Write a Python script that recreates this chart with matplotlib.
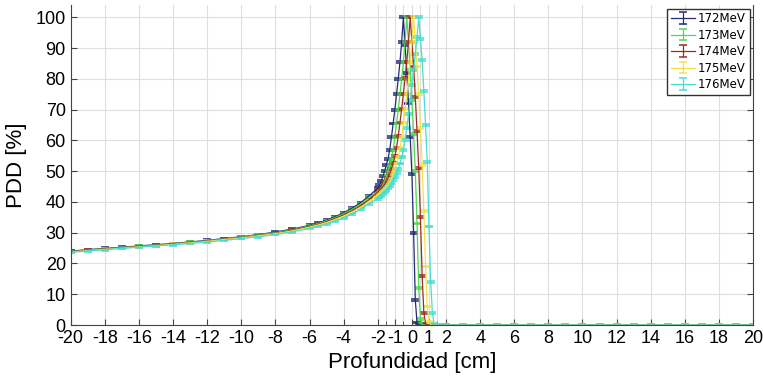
import matplotlib
matplotlib.use('Agg')
import matplotlib.pyplot as plt

# Depth grid [cm] shared by all energies (coarse on the plateau, fine near the peak)
depth = [-20, -19, -18, -17, -16, -15, -14, -13, -12, -11, -10, -9, -8, -7, -6,
         -5.5, -5, -4.5, -4, -3.5, -3, -2.5,
         -2.0, -1.9, -1.8, -1.7, -1.6, -1.5, -1.4, -1.3, -1.2, -1.1, -1.0, -0.9,
         -0.8, -0.7, -0.6, -0.5, -0.4, -0.3, -0.2, -0.1, 0.0, 0.1, 0.2, 0.3, 0.4,
         0.5, 0.6, 0.7, 0.8, 0.9, 1.0, 1.1, 1.2, 1.3, 1.4]

tail_depth = [1.6, 2, 3, 4, 5, 6, 7, 8, 9, 10, 11, 12, 13, 14, 15, 16, 17, 18, 19, 20]
tail_pdd = [0.0] * len(tail_depth)

pdd_172 = [24.0, 24.5, 24.9, 25.3, 25.7, 26.1, 26.5, 27.0, 27.5, 28.1, 28.7, 29.4, 30.2, 31.2, 32.4,
           33.2, 34.1, 35.2, 36.5, 38.0, 39.8, 42.0,
           44.5, 45.5, 46.8, 48.3, 50.0, 52.0, 54.0, 57.0, 61.0, 65.5, 70.0, 75.0, 80.0, 85.5,
           92.0, 100.0, 91.0, 82.0, 72.0, 61.0, 49.0, 30.0, 8.0, 0.8,
           0, 0, 0, 0, 0, 0, 0, 0, 0, 0, 0]

pdd_173 = [23.9, 24.4, 24.8, 25.2, 25.6, 26.0, 26.4, 26.9, 27.4, 28.0, 28.6, 29.3, 30.0, 31.0, 32.2,
           33.0, 33.9, 34.9, 36.2, 37.6, 39.3, 41.5,
           43.5, 44.0, 44.5, 45.5, 46.8, 48.3, 50.0, 52.0, 54.0, 57.0, 61.0, 65.5, 70.0, 75.0,
           80.0, 85.5, 92.0, 100.0, 92.0, 83.0, 73.0, 62.0, 50.0, 33.0, 12.0, 2.0, 0.2,
           0, 0, 0, 0, 0, 0, 0, 0]

pdd_174 = [23.8, 24.3, 24.7, 25.1, 25.5, 25.9, 26.3, 26.8, 27.3, 27.9, 28.4, 29.1, 29.8, 30.8, 32.0,
           32.7, 33.6, 34.6, 35.8, 37.2, 38.8, 40.8,
           43.2, 43.8, 44.4, 45.0, 45.7, 46.6, 47.8, 49.2, 50.8, 52.7, 54.8, 57.6, 61.4, 65.8,
           70.3, 75.2, 80.2, 85.6, 92.0, 100.0, 92.0, 84.0, 74.0, 63.0, 51.0, 35.0, 16.0, 4.0, 0.5,
           0, 0, 0, 0, 0, 0]

pdd_175 = [23.7, 24.2, 24.6, 25.0, 25.4, 25.8, 26.2, 26.7, 27.2, 27.8, 28.3, 29.0, 29.7, 30.6, 31.8,
           32.5, 33.3, 34.3, 35.4, 36.8, 38.3, 40.2,
           42.2, 42.7, 43.2, 43.7, 44.3, 44.9, 45.6, 46.5, 47.6, 49.0, 50.6, 52.5, 54.6, 57.4,
           61.2, 65.6, 70.1, 75.0, 80.0, 85.5, 92.0, 100.0, 92.0, 84.0, 75.0, 64.0, 52.0, 37.0,
           19.0, 6.0, 1.0, 0.1, 0, 0, 0]

pdd_176 = [23.6, 24.1, 24.5, 24.9, 25.3, 25.7, 26.1, 26.5, 27.0, 27.5, 28.1, 28.7, 29.4, 30.3, 31.4,
           32.1, 32.9, 33.8, 34.8, 36.1, 37.6, 39.4,
           41.0, 41.5, 42.0, 42.6, 43.2, 43.8, 44.5, 45.2, 46.0, 47.0, 48.0, 49.3, 50.8, 52.5,
           54.5, 57.0, 60.0, 64.0, 68.5, 73.0, 78.0, 83.0, 88.0, 93.5, 100.0, 93.0, 86.0, 76.0,
           65.0, 53.0, 32.0, 14.0, 4.0, 0.5, 0.0]

labels = ['172MeV', '173MeV', '174MeV', '175MeV', '176MeV']
series = [pdd_172, pdd_173, pdd_174, pdd_175, pdd_176]
colors = ['#232a78', '#4fd84f', '#9e2c22', '#f2e24a', '#48dcd4']

xticks = [-20, -18, -16, -14, -12, -10, -8, -6, -4, -2, -1, 0, 1, 2,
          4, 6, 8, 10, 12, 14, 16, 18, 20]
xminor = [-1.5, -0.5, 0.5, 1.5]
yticks = [0, 10, 20, 30, 40, 50, 60, 70, 80, 90, 100]

plt.rcParams['font.family'] = ['Liberation Sans', 'DejaVu Sans']
plt.rcParams['axes.unicode_minus'] = False

fig = plt.figure(figsize=(7.63, 3.80), dpi=100)
ax = fig.add_axes([0.0927, 0.1447, 0.8943, 0.8421])

for lab, pdd, col in zip(labels, series, colors):
    ax.errorbar(depth + tail_depth, pdd + tail_pdd, yerr=0.3, color=col, lw=0.9,
                elinewidth=0.9, capsize=2.6, capthick=1.1, label=lab)

ax.set_xlim(-20, 20)
ax.set_ylim(0, 104)
ax.set_xticks(xticks)
ax.set_xticks(xminor, minor=True)
ax.set_yticks(yticks)
ax.tick_params(axis='both', which='both', direction='in', labelsize=13, right=True, top=False,
               colors='#444444', labelcolor='black', length=4)
ax.tick_params(axis='x', which='minor', length=3)
ax.grid(True, which='both', color='#dedede', lw=0.8)
ax.set_axisbelow(True)
ax.spines['top'].set_visible(False)
for s in ['left', 'right', 'bottom']:
    ax.spines[s].set_color('#444444')

ax.set_xlabel('Profundidad [cm]', fontsize=16, labelpad=4)
ax.set_ylabel('PDD [%]', fontsize=16, labelpad=6)

leg = ax.legend(loc='upper right', prop={'family': 'DejaVu Sans', 'size': 8.5},
                fancybox=False, edgecolor='#333333', framealpha=1,
                borderaxespad=0.3, handlelength=2.0, labelspacing=0.3,
                borderpad=0.3, handletextpad=0.3)
leg.get_frame().set_linewidth(1.0)

fig.savefig('out.png', dpi=100)
